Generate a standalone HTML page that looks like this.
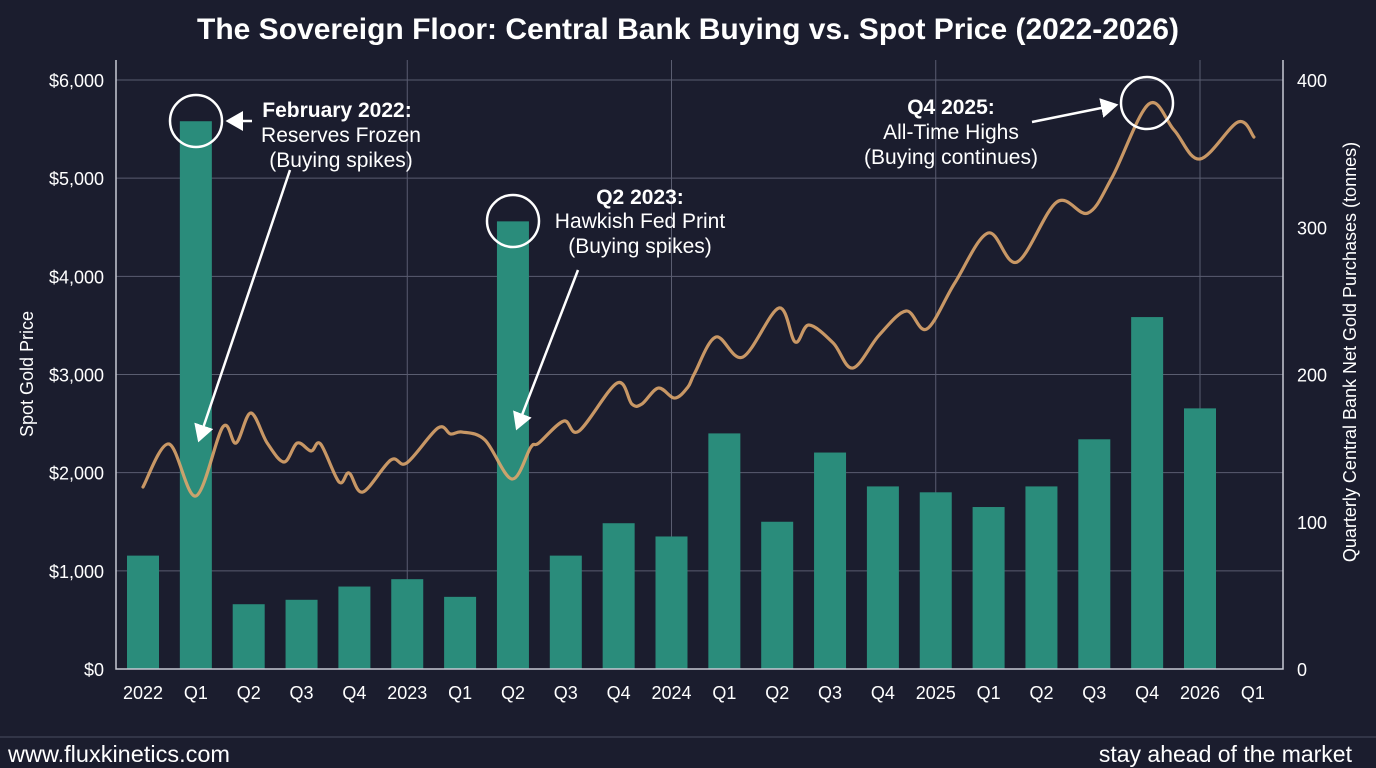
<!DOCTYPE html>
<html><head><meta charset="utf-8">
<style>
html,body{margin:0;padding:0;background:#1b1d2e;}
svg{display:block;font-family:"Liberation Sans",sans-serif;}
</style></head>
<body>
<svg id="chart" width="1376" height="768" viewBox="0 0 1376 768">
<rect x="0" y="0" width="1376" height="768" fill="#1b1d2e"/>
<text x="688" y="39" text-anchor="middle" fill="#ffffff" font-size="30" font-weight="bold">The Sovereign Floor: Central Bank Buying vs. Spot Price (2022-2026)</text>
<g id="grid"></g>
<g id="bars"></g>
<g id="line"></g>
<g id="axes"></g>
<g id="annot" fill="none" stroke="#ffffff" stroke-width="2.5">
<circle cx="196" cy="121" r="26"/>
<circle cx="513" cy="221" r="26"/>
<circle cx="1147" cy="103" r="26"/>
<line x1="252" y1="121" x2="228" y2="121" marker-end="url(#ah)"/>
<line x1="290" y1="170" x2="199" y2="440" marker-end="url(#ah)"/>
<line x1="578" y1="270" x2="517" y2="428" marker-end="url(#ah)"/>
<line x1="1032" y1="122" x2="1116" y2="105" marker-end="url(#ah)"/>
</g>
<defs><marker id="ah" markerWidth="8" markerHeight="8" refX="6" refY="4" orient="auto" markerUnits="strokeWidth"><path d="M0,0 L7,4 L0,8 Z" fill="#ffffff" stroke="none"/></marker></defs>
<g fill="#ffffff" font-size="21" text-anchor="middle">
<text x="337" y="117" font-weight="bold">February 2022:</text>
<text x="341" y="142">Reserves Frozen</text>
<text x="341" y="167">(Buying spikes)</text>
<text x="640" y="204" font-weight="bold">Q2 2023:</text>
<text x="640" y="228">Hawkish Fed Print</text>
<text x="640" y="253">(Buying spikes)</text>
<text x="951" y="114" font-weight="bold">Q4 2025:</text>
<text x="951" y="139">All-Time Highs</text>
<text x="951" y="164">(Buying continues)</text>
</g>
<line x1="0" y1="737" x2="1376" y2="737" stroke="#4a4d60" stroke-width="1"/>
<text x="8" y="762" fill="#ffffff" font-size="23.5">www.fluxkinetics.com</text>
<text x="1352" y="762" fill="#ffffff" font-size="23" text-anchor="end">stay ahead of the market</text>
</svg>
<script>
const categories = ["2022","Q1","Q2","Q3","Q4","2023","Q1","Q2","Q3","Q4","2024","Q1","Q2","Q3","Q4","2025","Q1","Q2","Q3","Q4","2026","Q1"];
const purchases = [77,372,44,47,56,61,49,304,77,99,90,160,100,147,124,120,110,124,156,239,177];
const priceTime = [0,0.49,1,1.51,1.76,2.04,2.35,2.67,2.92,3.18,3.36,3.71,3.9,4.16,4.69,4.99,5.58,5.82,6.04,6.47,6.98,7.34,7.49,7.96,8.25,8.97,9.25,9.44,9.75,10.06,10.31,10.44,10.84,11.35,12.03,12.34,12.6,13.06,13.43,13.93,14.44,14.83,15.36,15.99,16.54,17.29,17.88,18.34,19.03,19.51,20,20.72,21.02];
const priceValues = [1854,2292,1762,2465,2302,2608,2302,2109,2302,2221,2292,1905,1996,1803,2129,2099,2455,2394,2414,2333,1935,2261,2302,2526,2424,2913,2699,2699,2862,2760,2872,3015,3382,3178,3677,3331,3504,3321,3066,3402,3647,3463,3932,4441,4146,4757,4645,5012,5755,5490,5195,5572,5419];
const leftTicks = ["$0","$1,000","$2,000","$3,000","$4,000","$5,000","$6,000"];
const rightTicks = ["0","100","200","300","400"];
const yearIdx = [5,10,15,20];

const NS="http://www.w3.org/2000/svg";
const X0=143, DX=52.85, YB=669, YT=80;
const xAt=i=>X0+i*DX;
const yPrice=v=>YB-(v/6000)*(YB-YT);
const yTon=v=>YB-(v/400)*(YB-YT);
function mk(tag,attrs,parent){const e=document.createElementNS(NS,tag);for(const k in attrs)e.setAttribute(k,attrs[k]);parent.appendChild(e);return e;}
const grid=document.getElementById('grid'),bars=document.getElementById('bars'),lineG=document.getElementById('line'),axes=document.getElementById('axes');
leftTicks.forEach((t,i)=>{const y=yPrice(i*1000);
 if(i>0){const g=mk('line',{x1:116,x2:1283,y1:y,y2:y,stroke:'#5a5d70','stroke-width':1},grid);
 
 }
 const tx=mk('text',{x:104,y:y+7,fill:'#ffffff','font-size':18,'text-anchor':'end'},axes);tx.textContent=t;
 
 
});
rightTicks.forEach((t,i)=>{const y=yTon(i*100);
 const tx=mk('text',{x:1297,y:y+7,fill:'#ffffff','font-size':18},axes);tx.textContent=t;
 
 
});
yearIdx.forEach(i=>{const g=mk('line',{x1:xAt(i),x2:xAt(i),y1:60,y2:YB,stroke:'#5a5d70','stroke-width':1},grid);
 
 
});
purchases.forEach((v,i)=>{const y=yTon(v);
 const r=mk('rect',{x:xAt(i)-16,y:y,width:32,height:YB-y,fill:'#2a8c7b'},bars);
 
 
});
categories.forEach((c,i)=>{const tx=mk('text',{x:xAt(i),y:699,fill:'#ffffff','font-size':18,'text-anchor':'middle'},axes);tx.textContent=c;
 
 
});
const al=mk('path',{d:`M116,60 L116,${YB} L1283,${YB} L1283,60`,fill:'none',stroke:'#c8cad4','stroke-width':1.5},axes);


const lt=mk('text',{x:0,y:0,fill:'#ffffff','font-size':18,'text-anchor':'middle',transform:'translate(33,374) rotate(-90)'},axes);lt.textContent='Spot Gold Price';


const rt=mk('text',{x:0,y:0,fill:'#ffffff','font-size':18,'text-anchor':'middle',transform:'translate(1356,352) rotate(-90)'},axes);rt.textContent='Quarterly Central Bank Net Gold Purchases (tonnes)';


const pts=priceTime.map((t,i)=>[xAt(t),yPrice(priceValues[i])]);
let d=`M${pts[0][0]},${pts[0][1]}`;
for(let i=0;i<pts.length-1;i++){const p0=pts[Math.max(0,i-1)],p1=pts[i],p2=pts[i+1],p3=pts[Math.min(pts.length-1,i+2)];
 const c1=[p1[0]+(p2[0]-p0[0])/6,p1[1]+(p2[1]-p0[1])/6],c2=[p2[0]-(p3[0]-p1[0])/6,p2[1]-(p3[1]-p1[1])/6];
 d+=` C${c1[0]},${c1[1]} ${c2[0]},${c2[1]} ${p2[0]},${p2[1]}`;}
const pl=mk('path',{d:d,fill:'none',stroke:'#dba56c','stroke-width':3.2,'stroke-opacity':0.9,'stroke-linejoin':'round','stroke-linecap':'round'},lineG);


</script>
</body></html>
